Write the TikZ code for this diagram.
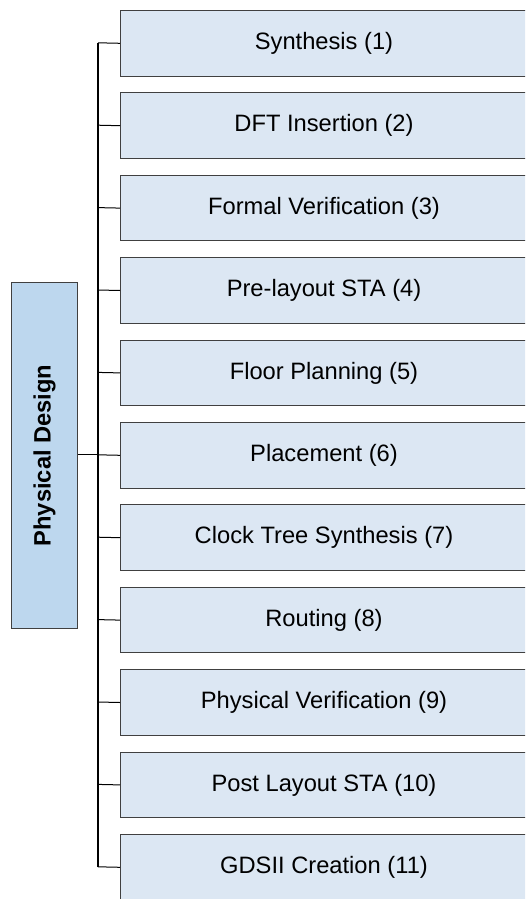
\documentclass[tikz,border=0pt]{standalone}
\usepackage{fontspec}
\setmainfont{Liberation Sans}
\definecolor{stepfill}{HTML}{DCE7F3}
\definecolor{rootfill}{HTML}{BDD7EE}
\definecolor{edgegray}{HTML}{404040}
\begin{document}
\begin{tikzpicture}[x=1pt,y=-1pt,
  stepbox/.style={draw=edgegray, line width=1pt, fill=stepfill, anchor=north west,
    minimum width=407pt, minimum height=65.6pt, inner sep=0pt,
    font=\fontsize{23.7}{28}\selectfont},
  rootbox/.style={draw=edgegray, line width=1pt, fill=rootfill, anchor=north west,
    minimum width=66pt, minimum height=346pt, inner sep=0pt},
  branch/.style={draw=black, line width=1pt},
  trunk/.style={draw=black, line width=1.5pt}]
\useasboundingbox (0,0) rectangle (525,899);
\clip (0,0) rectangle (525,899);
\fill[white] (0,0) rectangle (525,899);

% root node, text turned to read bottom-up
\node[rootbox] (root) at (11,282) {};
\node[rotate=90, font=\bfseries\fontsize{23.7}{28}\selectfont] (rootlabel) at (root.center) {Physical Design};

% eleven design steps
\foreach \i/\t in {0/Synthesis (1), 1/DFT Insertion (2), 2/Formal Verification (3),
  3/Pre-layout STA (4), 4/Floor Planning (5), 5/Placement (6),
  6/Clock Tree Synthesis (7), 7/Routing (8), 8/Physical Verification (9),
  9/Post Layout STA (10), 10/GDSII Creation (11)} {
  \node[stepbox] (s\i) at (120, {10+82.4*\i}) {\t};
  \coordinate (j\i) at (98, {10+82.4*\i+32.8});
  \draw[branch] (j\i) -- (s\i.west);
}

% vertical bus and link from the root
\draw[trunk] (j0) -- (j10);
\coordinate (jr) at (98, 454.8);
\draw[branch] (root.east |- jr) -- (jr);
\end{tikzpicture}
\end{document}
